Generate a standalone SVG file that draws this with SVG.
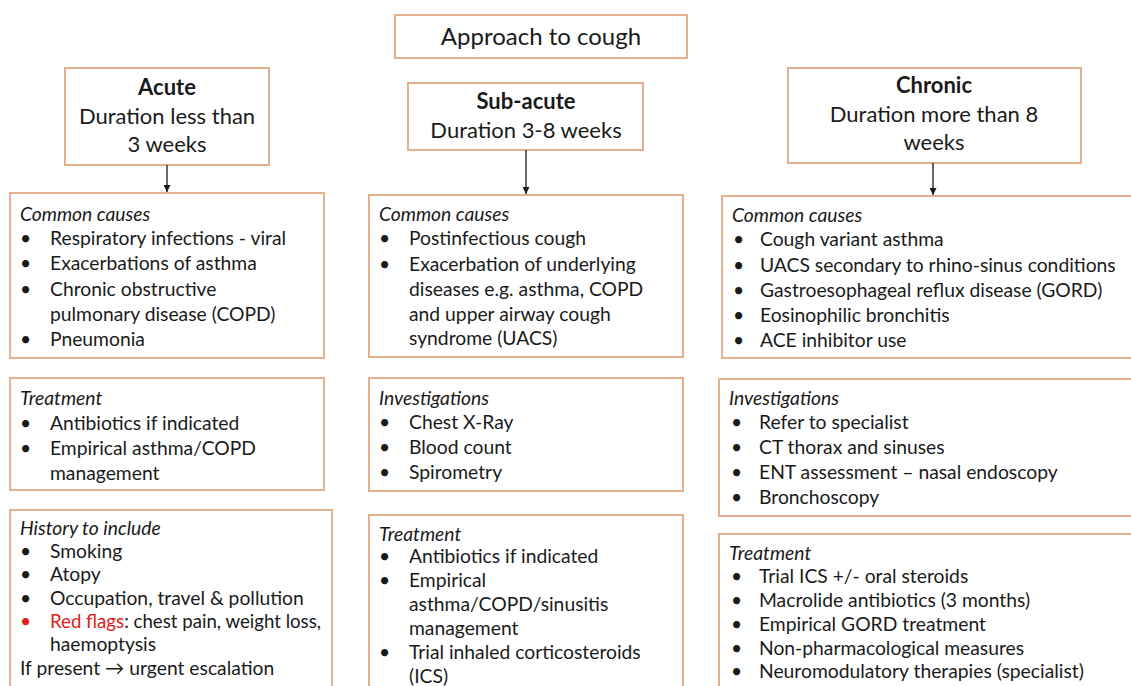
<svg xmlns="http://www.w3.org/2000/svg" width="1131" height="686" viewBox="0 0 1131 686">
<defs>
<marker id="ah" viewBox="0 0 10 10" refX="10" refY="5" markerWidth="7" markerHeight="7" orient="auto" markerUnits="userSpaceOnUse">
<path d="M0,0 L10,5 L0,10 z" fill="#1a1a1a"/>
</marker>
<style>
.box{fill:#ffffff;stroke:#e4b08e;stroke-width:2}
text{font-family:Lato,"Open Sans","Liberation Sans",sans-serif;fill:#1a1a1a;font-size:19.3px}
.hd{font-size:22px;text-anchor:middle}
.b{font-weight:bold}
.it{font-style:italic}
.red{fill:#e0201b}
.con{stroke:#1a1a1a;stroke-width:1.3;fill:none}
</style>
</defs>
<rect width="1131" height="686" fill="#ffffff"/>

<g id="title">
<rect class="box" x="395" y="15" width="292" height="43"/>
<text class="hd" x="541" y="45" style="font-size:24px">Approach to cough</text>
</g>

<g id="acute">
<rect class="box" x="65" y="68" width="204" height="97"/>
<text class="hd b" x="167" y="95">Acute</text>
<text class="hd" x="167" y="124">Duration less than</text>
<text class="hd" x="167" y="152">3 weeks</text>
</g>

<g id="subacute">
<rect class="box" x="408" y="83" width="235" height="67"/>
<text class="hd b" x="526" y="109">Sub-acute</text>
<text class="hd" x="526" y="138">Duration 3-8 weeks</text>
</g>

<g id="chronic">
<rect class="box" x="788" y="68" width="293" height="95"/>
<text class="hd b" x="934" y="93">Chronic</text>
<text class="hd" x="934" y="122">Duration more than 8</text>
<text class="hd" x="934" y="150">weeks</text>
</g>

<g id="acute-causes">
<rect class="box" x="10" y="193" width="314" height="165"/>
<text class="it" x="20" y="221">Common causes</text>
<text x="20" y="245">•</text><text x="50" y="245">Respiratory infections - viral</text>
<text x="20" y="270">•</text><text x="50" y="270">Exacerbations of asthma</text>
<text x="20" y="296">•</text><text x="50" y="296">Chronic obstructive</text>
<text x="50" y="321">pulmonary disease (COPD)</text>
<text x="20" y="346">•</text><text x="50" y="346">Pneumonia</text>
</g>

<g id="acute-treatment">
<rect class="box" x="10" y="378" width="314" height="112"/>
<text class="it" x="20" y="405">Treatment</text>
<text x="20" y="430">•</text><text x="50" y="430">Antibiotics if indicated</text>
<text x="20" y="455">•</text><text x="50" y="455">Empirical asthma/COPD</text>
<text x="50" y="480">management</text>
</g>

<g id="acute-history">
<rect class="box" x="10" y="510" width="322" height="190"/>
<text class="it" x="20" y="535">History to include</text>
<text x="20" y="558">•</text><text x="50" y="558">Smoking</text>
<text x="20" y="581">•</text><text x="50" y="581">Atopy</text>
<text x="20" y="605">•</text><text x="50" y="605">Occupation, travel &amp; pollution</text>
<text x="20" y="628" class="red">•</text><text x="50" y="628" textLength="271" lengthAdjust="spacingAndGlyphs"><tspan class="red">Red flags</tspan>: chest pain, weight loss,</text>
<text x="50" y="651">haemoptysis</text>
<text x="20" y="675">If present → urgent escalation</text>
</g>

<g id="sub-causes">
<rect class="box" x="369" y="195" width="314" height="162"/>
<text class="it" x="379" y="221">Common causes</text>
<text x="379" y="245">•</text><text x="409" y="245">Postinfectious cough</text>
<text x="379" y="271">•</text><text x="409" y="271">Exacerbation of underlying</text>
<text x="409" y="296">diseases e.g. asthma, COPD</text>
<text x="409" y="321">and upper airway cough</text>
<text x="409" y="345">syndrome (UACS)</text>
</g>

<g id="sub-investigations">
<rect class="box" x="369" y="378" width="314" height="113"/>
<text class="it" x="379" y="405">Investigations</text>
<text x="379" y="429">•</text><text x="409" y="429">Chest X-Ray</text>
<text x="379" y="454">•</text><text x="409" y="454">Blood count</text>
<text x="379" y="479">•</text><text x="409" y="479">Spirometry</text>
</g>

<g id="sub-treatment">
<rect class="box" x="369" y="515" width="314" height="190"/>
<text class="it" x="379" y="541">Treatment</text>
<text x="379" y="563">•</text><text x="409" y="563">Antibiotics if indicated</text>
<text x="379" y="587">•</text><text x="409" y="587">Empirical</text>
<text x="409" y="611">asthma/COPD/sinusitis</text>
<text x="409" y="635">management</text>
<text x="379" y="659">•</text><text x="409" y="659">Trial inhaled corticosteroids</text>
<text x="409" y="683">(ICS)</text>
</g>

<g id="chronic-causes">
<rect class="box" x="722" y="196" width="430" height="162"/>
<text class="it" x="732" y="222">Common causes</text>
<text x="733" y="246">•</text><text x="760" y="246">Cough variant asthma</text>
<text x="733" y="272">•</text><text x="760" y="272">UACS secondary to rhino-sinus conditions</text>
<text x="733" y="297">•</text><text x="760" y="297">Gastroesophageal reflux disease (GORD)</text>
<text x="733" y="322">•</text><text x="760" y="322">Eosinophilic bronchitis</text>
<text x="733" y="347">•</text><text x="760" y="347">ACE inhibitor use</text>
</g>

<g id="chronic-investigations">
<rect class="box" x="719" y="379" width="430" height="137"/>
<text class="it" x="729" y="405">Investigations</text>
<text x="731" y="429">•</text><text x="759" y="429">Refer to specialist</text>
<text x="731" y="454">•</text><text x="759" y="454">CT thorax and sinuses</text>
<text x="731" y="479">•</text><text x="759" y="479">ENT assessment – nasal endoscopy</text>
<text x="731" y="504">•</text><text x="759" y="504">Bronchoscopy</text>
</g>

<g id="chronic-treatment">
<rect class="box" x="719" y="534" width="430" height="170"/>
<text class="it" x="729" y="560">Treatment</text>
<text x="731" y="583">•</text><text x="759" y="583">Trial ICS +/- oral steroids</text>
<text x="731" y="607">•</text><text x="759" y="607">Macrolide antibiotics (3 months)</text>
<text x="731" y="631">•</text><text x="759" y="631">Empirical GORD treatment</text>
<text x="731" y="655">•</text><text x="759" y="655">Non-pharmacological measures</text>
<text x="731" y="678">•</text><text x="759" y="678">Neuromodulatory therapies (specialist)</text>
</g>

<g id="connectors">
<line class="con" x1="167" y1="165" x2="167" y2="192" marker-end="url(#ah)"/>
<line class="con" x1="526" y1="150" x2="526" y2="194" marker-end="url(#ah)"/>
<line class="con" x1="933" y1="163" x2="933" y2="195" marker-end="url(#ah)"/>
</g>
</svg>
